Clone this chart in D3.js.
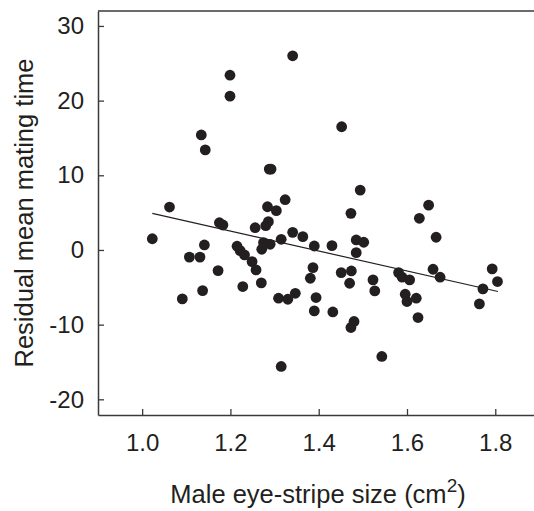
<!DOCTYPE html>
<html>
<head>
<meta charset="utf-8">
<script src="https://cdn.jsdelivr.net/npm/d3@7"></script>
<style>
  html, body { margin: 0; padding: 0; background: #fff; }
  svg { display: block; }
  text { font-family: "Liberation Sans", Arial, Helvetica, sans-serif; fill: #231f20; }
</style>
</head>
<body>
<svg id="chart" width="534" height="511"></svg>
<script>
// Data
const stripeSize = [1.023,1.062,1.091,1.107,1.131,1.134,1.137,1.141,1.143,1.172,1.175,1.183,1.199,1.199,1.215,1.222,1.228,1.232,1.249,1.256,1.258,1.270,1.271,1.275,1.280,1.284,1.286,1.288,1.292,1.290,1.304,1.309,1.315,1.315,1.324,1.330,1.341,1.341,1.347,1.364,1.381,1.387,1.390,1.390,1.394,1.430,1.432,1.451,1.452,1.470,1.473,1.474,1.473,1.480,1.485,1.485,1.494,1.502,1.523,1.527,1.543,1.581,1.589,1.596,1.600,1.606,1.621,1.625,1.628,1.649,1.659,1.666,1.675,1.764,1.772,1.793,1.805];
const residualTime = [1.5,5.75,-6.55,-0.95,-0.95,15.4,-5.44,0.67,13.4,-2.76,3.65,3.34,23.4,20.6,0.5,-0.09,-4.9,-0.67,-1.56,2.98,-2.67,-4.41,0.09,0.98,3.25,5.79,3.79,10.83,10.83,0.76,5.26,-6.46,1.43,-15.6,6.73,-6.6,26.0,2.36,-5.8,1.78,-3.79,-2.36,0.53,-8.16,-6.37,0.58,-8.3,-3.03,16.5,-4.46,4.9,-2.81,-10.38,-9.58,1.34,-0.36,8.02,1.03,-4.0,-5.48,-14.26,-3.03,-3.65,-5.93,-6.9,-4.0,-6.46,-9.05,4.24,6.0,-2.58,1.7,-3.65,-7.22,-5.21,-2.54,-4.23];
const xTicks = [1.0, 1.2, 1.4, 1.6, 1.8];
const yTicks = [-20, -10, 0, 10, 20, 30];
const xTickLabels = ["1.0", "1.2", "1.4", "1.6", "1.8"];
const yTickLabels = ["-20", "-10", "0", "10", "20", "30"];
const fitIntercept = [18.58];
const fitSlope = [-13.37];
const fitRange = [1.023, 1.806];
const xTitle = "Male eye-stripe size (cm";
const yTitle = "Residual mean mating time";

const svg = d3.select("#chart");
const mLeft = 98, mRight = 535, mTop = 11, mBottom = 415;

const x = d3.scaleLinear().domain([0.9, 1.89]).range([mLeft, mRight]);
const y = d3.scaleLinear().domain([-22.1, 32]).range([mBottom, mTop]);

const axisColor = "#3a3a3a";

// X axis (ticks point inward)
const gx = svg.append("g").attr("transform", `translate(0,${mBottom})`)
  .call(d3.axisBottom(x).tickValues(xTicks).tickFormat((d, i) => xTickLabels[i])
    .tickSizeInner(-6).tickSizeOuter(0).tickPadding(14));
gx.select(".domain").attr("stroke", axisColor).attr("stroke-width", 1.5);
gx.selectAll(".tick line").attr("stroke", axisColor).attr("stroke-width", 1.3);
gx.selectAll(".tick text").attr("font-size", 24).attr("fill", "#231f20")
  .attr("font-family", '"Liberation Sans", Arial, sans-serif')
  .attr("dy", null).attr("y", 36).attr("dominant-baseline", "alphabetic");

// Y axis (ticks point inward)
const gy = svg.append("g").attr("transform", `translate(${mLeft},0)`)
  .call(d3.axisLeft(y).tickValues(yTicks).tickFormat((d, i) => yTickLabels[i])
    .tickSizeInner(-6).tickSizeOuter(0).tickPadding(14));
gy.select(".domain").attr("stroke", axisColor).attr("stroke-width", 1.5);
gy.selectAll(".tick line").attr("stroke", axisColor).attr("stroke-width", 1.3);
gy.selectAll(".tick text").attr("font-size", 24).attr("fill", "#231f20")
  .attr("font-family", '"Liberation Sans", Arial, sans-serif')
  .attr("x", -14);

// Top frame line
svg.append("line")
  .attr("x1", x.range()[0]).attr("x2", x.range()[1])
  .attr("y1", y.range()[1]).attr("y2", y.range()[1])
  .attr("stroke", axisColor).attr("stroke-width", 1.5);

// Regression line
const fit = fitRange.map(v => [v, fitIntercept[0] + fitSlope[0] * v]);
svg.append("path")
  .attr("d", d3.line().x(d => x(d[0])).y(d => y(d[1]))(fit))
  .attr("stroke", "#231f20").attr("stroke-width", 1.2).attr("fill", "none");

// Points
const pts = stripeSize.map((v, i) => ({ x: v, y: residualTime[i] }));
svg.append("g").selectAll("circle").data(pts).join("circle")
  .attr("cx", d => x(d.x)).attr("cy", d => y(d.y)).attr("r", 5.4)
  .attr("fill", "#231f20");

// Axis titles
const xt = svg.append("text")
  .attr("x", 318).attr("y", 503)
  .attr("text-anchor", "middle").attr("font-size", 25.5);
xt.append("tspan").text(xTitle);
xt.append("tspan").text("2").attr("font-size", 19).attr("dy", -11);
xt.append("tspan").text(")").attr("dy", 11);

svg.append("text")
  .attr("transform", `translate(33,${213}) rotate(-90)`)
  .attr("text-anchor", "middle").attr("font-size", 25.5)
  .text(yTitle);
</script>
</body>
</html>
